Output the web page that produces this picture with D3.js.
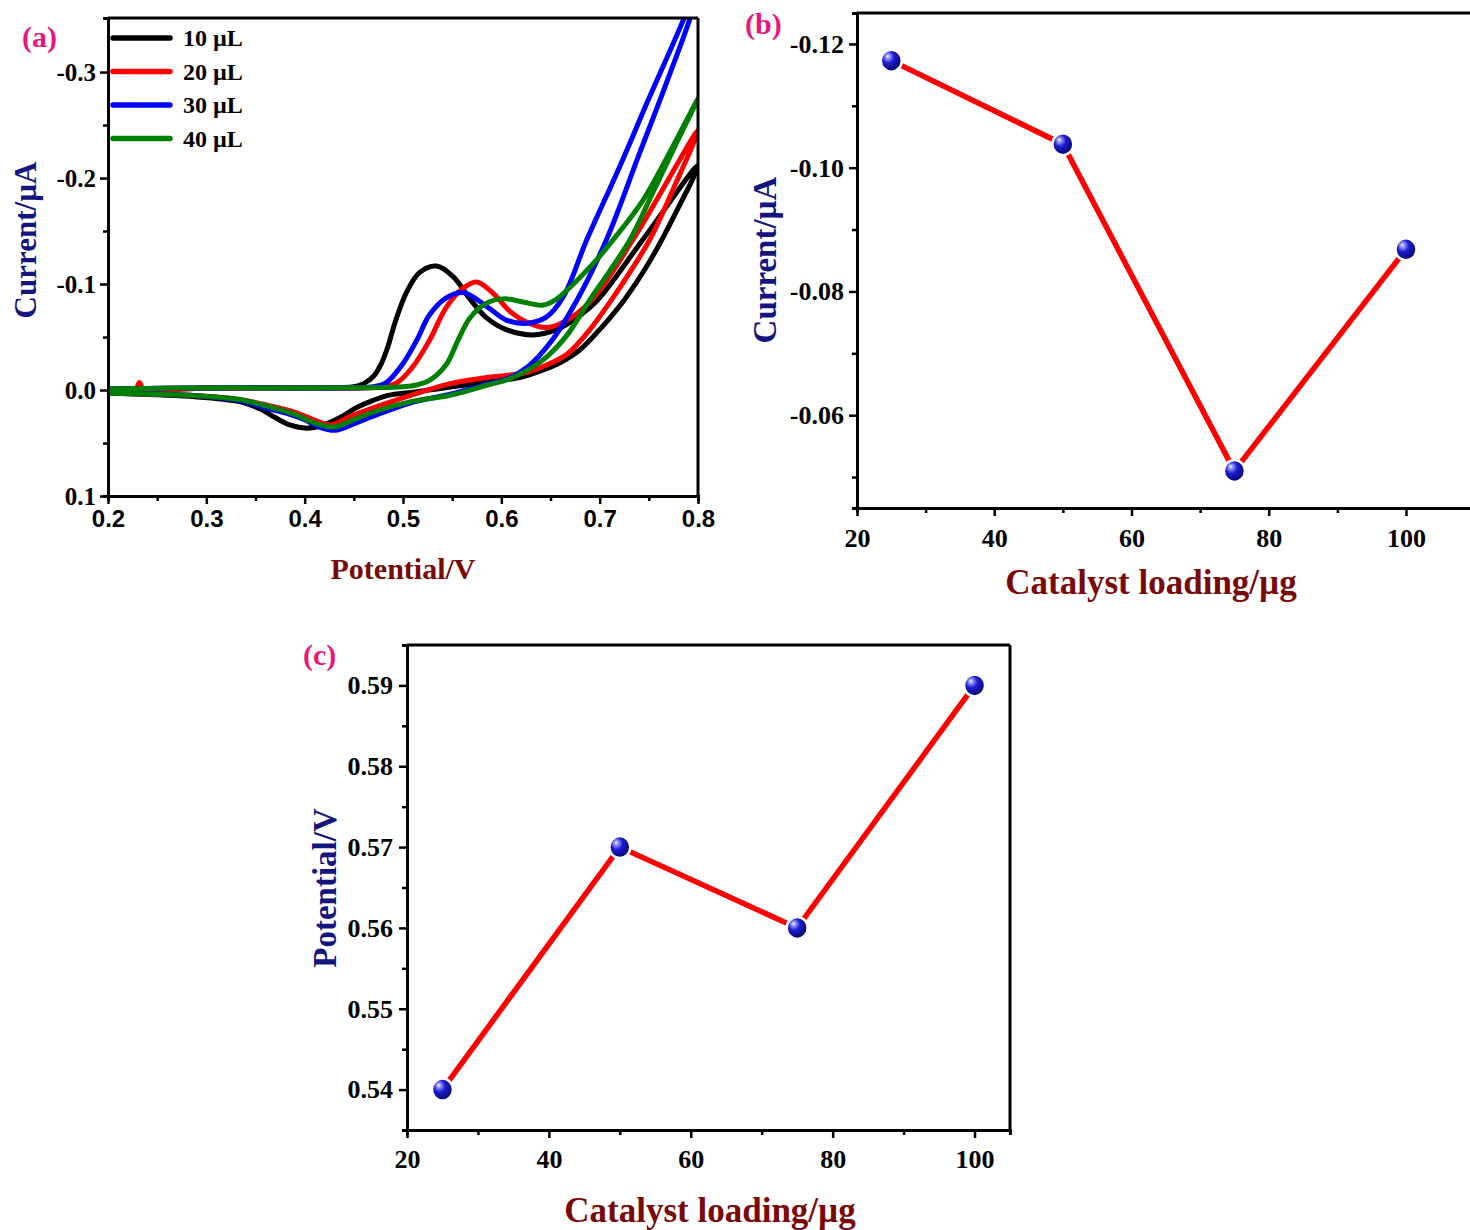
<!DOCTYPE html>
<html>
<head>
<meta charset="utf-8">
<script src="https://cdn.jsdelivr.net/npm/d3@7"></script>
<style>
  body { margin: 0; background: #fff; }
  svg { display: block; }
</style>
</head>
<body>
<div id="chart"></div>
<script>
// ---- data ----
// (a) cyclic voltammograms, [potential V, current uA], forward scan then reverse scan
const cvLabels = ["10 \u00b5L", "20 \u00b5L", "30 \u00b5L", "40 \u00b5L"];
const cv10 = [[0.2,-0.001],[0.3,-0.002],[0.4,-0.002],[0.45,-0.003],[0.46,-0.006],[0.47,-0.013],[0.478,-0.025],[0.485,-0.042],[0.492,-0.064],[0.504,-0.093],[0.517,-0.111],[0.534,-0.117],[0.551,-0.107],[0.568,-0.086],[0.585,-0.068],[0.605,-0.057],[0.632,-0.052],[0.656,-0.057],[0.678,-0.069],[0.698,-0.085],[0.744,-0.142],[0.8,-0.212],
  [0.775,-0.163],[0.75,-0.12],[0.725,-0.085],[0.70,-0.057],[0.68,-0.038],[0.66,-0.026],[0.64,-0.018],[0.62,-0.012],[0.59,-0.008],[0.55,-0.003],[0.51,0.002],[0.485,0.005],[0.469,0.010],[0.452,0.017],[0.436,0.026],[0.419,0.033],[0.402,0.036],[0.385,0.033],[0.37,0.026],[0.355,0.018],[0.334,0.011],[0.283,0.006],[0.2,0.003]];
const cv20 = [[0.2,-0.001],[0.228,-0.001],[0.232,-0.007],[0.236,-0.001],[0.3,-0.002],[0.4,-0.002],[0.48,-0.003],[0.494,-0.007],[0.51,-0.022],[0.527,-0.047],[0.544,-0.078],[0.561,-0.096],[0.575,-0.102],[0.592,-0.091],[0.609,-0.074],[0.626,-0.064],[0.646,-0.059],[0.665,-0.065],[0.692,-0.085],[0.734,-0.142],[0.8,-0.245],
  [0.775,-0.19],[0.751,-0.142],[0.73,-0.11],[0.712,-0.085],[0.69,-0.057],[0.667,-0.034],[0.647,-0.024],[0.627,-0.017],[0.607,-0.014],[0.587,-0.012],[0.548,-0.006],[0.508,0.005],[0.469,0.017],[0.446,0.025],[0.426,0.033],[0.412,0.029],[0.39,0.021],[0.365,0.015],[0.334,0.009],[0.283,0.005],[0.2,0.003]];
const cv30 = [[0.2,-0.001],[0.3,-0.002],[0.4,-0.002],[0.47,-0.003],[0.483,-0.007],[0.5,-0.025],[0.514,-0.047],[0.527,-0.071],[0.544,-0.087],[0.561,-0.092],[0.585,-0.079],[0.605,-0.066],[0.626,-0.063],[0.646,-0.069],[0.663,-0.088],[0.687,-0.142],[0.72,-0.21],[0.75,-0.275],[0.785,-0.349],[0.8,-0.385],
  [0.795,-0.36],[0.77,-0.295],[0.74,-0.222],[0.707,-0.142],[0.677,-0.085],[0.65,-0.045],[0.627,-0.022],[0.607,-0.011],[0.587,-0.006],[0.548,0.004],[0.508,0.012],[0.469,0.025],[0.45,0.032],[0.431,0.038],[0.415,0.035],[0.40,0.028],[0.385,0.023],[0.365,0.018],[0.334,0.010],[0.283,0.005],[0.2,0.003]];
const cv40 = [[0.2,-0.001],[0.3,-0.002],[0.4,-0.002],[0.5,-0.003],[0.515,-0.005],[0.527,-0.009],[0.544,-0.024],[0.556,-0.047],[0.568,-0.068],[0.585,-0.082],[0.604,-0.086],[0.622,-0.083],[0.642,-0.080],[0.655,-0.085],[0.67,-0.097],[0.697,-0.123],[0.714,-0.142],[0.744,-0.179],[0.77,-0.222],[0.8,-0.275],
  [0.775,-0.227],[0.755,-0.188],[0.731,-0.142],[0.71,-0.112],[0.69,-0.085],[0.667,-0.052],[0.647,-0.032],[0.627,-0.019],[0.607,-0.010],[0.587,-0.005],[0.548,0.005],[0.508,0.011],[0.469,0.021],[0.45,0.028],[0.429,0.035],[0.41,0.031],[0.39,0.023],[0.365,0.016],[0.334,0.009],[0.283,0.005],[0.2,0.003]];
const cvSeries = [cv10, cv20, cv30, cv40];

// (b) and (c)
const loading = [25, 50, 75, 100];
const peakCurrent = [-0.1173, -0.1038, -0.0510, -0.0868];
const peakPotential = [0.54, 0.57, 0.56, 0.59];

// tick values
const aXTicks = [0.2, 0.3, 0.4, 0.5, 0.6, 0.7, 0.8];
const aXMinor = [0.25, 0.35, 0.45, 0.55, 0.65, 0.75];
const aYTicks = [0.1, 0.0, -0.1, -0.2, -0.3];
const aYMinor = [0.05, -0.05, -0.15, -0.25];
const loadTicks = [20, 40, 60, 80, 100];
const loadMinor = [30, 50, 70, 90, 110];
const bYTicks = [-0.12, -0.10, -0.08, -0.06];
const bYMinor = [-0.11, -0.09, -0.07, -0.05];
const cYTicks = [0.54, 0.55, 0.56, 0.57, 0.58, 0.59];
const cYMinor = [0.545, 0.555, 0.565, 0.575, 0.585];

// ---- drawing ----
const W = 1470, H = 1230;
const serif = "'Liberation Serif', 'Times New Roman', serif";
const sans = "'Liberation Sans', Arial, sans-serif";
const cvColors = ["#000000", "#ff0000", "#0000ff", "#008000"];
const pink = "#e8177d", navy = "#15157f", maroon = "#7a0a0a";

const svg = d3.select("#chart").append("svg")
    .attr("width", W).attr("height", H);

// glossy sphere gradient
const defs = svg.append("defs");
const grad = defs.append("radialGradient").attr("id", "ball")
    .attr("cx", "0.4").attr("cy", "0.38").attr("r", "0.62")
    .attr("fx", "0.32").attr("fy", "0.3");
grad.append("stop").attr("offset", "0").attr("stop-color", "#ffffff");
grad.append("stop").attr("offset", "0.15").attr("stop-color", "#9a9aff");
grad.append("stop").attr("offset", "0.45").attr("stop-color", "#1d1dd0");
grad.append("stop").attr("offset", "1").attr("stop-color", "#05056a");

function styleAxis(g, font, size) {
    g.select(".domain").attr("stroke-width", 3).attr("stroke", "#000");
    g.selectAll(".tick line").attr("stroke-width", 2.5).attr("stroke", "#000");
    g.selectAll("text").attr("font-family", font).attr("font-size", size)
        .attr("font-weight", "bold").attr("fill", "#000");
}

function drawAxes(opt) {
    let x = opt.x, y = opt.y;
    let [x0, x1] = x.range(), [y0, y1] = y.range();
    // frame top / right
    svg.append("line").attr("x1", x0).attr("x2", x1).attr("y1", y1).attr("y2", y1)
        .attr("stroke", "#000").attr("stroke-width", 3);
    svg.append("line").attr("x1", x1).attr("x2", x1).attr("y1", y0).attr("y2", y1)
        .attr("stroke", "#000").attr("stroke-width", 3);

    svg.append("g").attr("transform", `translate(0,${y0})`)
        .call(d3.axisBottom(x).tickValues(opt.xMinor).tickSize(5).tickFormat(""))
        .call(g => styleAxis(g, opt.xFont, opt.xSize));
    svg.append("g").attr("transform", `translate(0,${y0})`)
        .call(d3.axisBottom(x).tickValues(opt.xTicks).tickSize(8).tickSizeOuter(0)
            .tickPadding(opt.xPad).tickFormat(opt.xFmt))
        .call(g => styleAxis(g, opt.xFont, opt.xSize));
    svg.append("g").attr("transform", `translate(${x0},0)`)
        .call(d3.axisLeft(y).tickValues(opt.yMinor).tickSize(5).tickFormat(""))
        .call(g => styleAxis(g, serif, opt.ySize));
    svg.append("g").attr("transform", `translate(${x0},0)`)
        .call(d3.axisLeft(y).tickValues(opt.yTicks).tickSize(8).tickSizeOuter(0)
            .tickPadding(opt.yPad).tickFormat(opt.yFmt))
        .call(g => styleAxis(g, serif, opt.ySize));
}

function label(txt, x, y, color, size, rotate) {
    svg.append("text")
        .attr("transform", `translate(${x},${y})` + (rotate ? " rotate(-90)" : ""))
        .attr("text-anchor", rotate === undefined ? "start" : "middle")
        .attr("font-family", serif).attr("font-weight", "bold")
        .attr("font-size", size).attr("fill", color)
        .text(txt);
}

// ---------- panel (a) ----------
const xa = d3.scaleLinear().domain([0.2, 0.8]).range([108, 698]);
const ya = d3.scaleLinear().domain([0.1, -0.351]).range([496, 18]);

defs.append("clipPath").attr("id", "clipA").append("rect")
    .attr("x", 108).attr("y", 18).attr("width", 590).attr("height", 478);

const cvLine = d3.line().x(d => xa(d[0])).y(d => ya(d[1]))
    .curve(d3.curveCatmullRom.alpha(0.5));

svg.append("g").attr("clip-path", "url(#clipA)")
    .selectAll("path").data(cvSeries).join("path")
    .attr("d", cvLine)
    .attr("fill", "none")
    .attr("stroke", (d, i) => cvColors[i])
    .attr("stroke-width", 5)
    .attr("stroke-linejoin", "round");

drawAxes({
    x: xa, y: ya,
    xTicks: aXTicks, xMinor: aXMinor, xFmt: d => d.toFixed(1), xFont: sans, xSize: 24, xPad: 6,
    yTicks: aYTicks, yMinor: aYMinor, yFmt: d => d.toFixed(1), ySize: 25, yPad: 4
});

// legend
const leg = svg.append("g");
cvLabels.forEach((t, i) => {
    let ly = 38 + i * 33.5;
    leg.append("line").attr("x1", 113).attr("x2", 170).attr("y1", ly).attr("y2", ly)
        .attr("stroke", cvColors[i]).attr("stroke-width", 5.5).attr("stroke-linecap", "round");
    leg.append("text").attr("x", 183).attr("y", ly + 8)
        .attr("font-family", serif).attr("font-weight", "bold").attr("font-size", 24)
        .text(t);
});

label("(a)", 22, 47, pink, 30);
label("Potential/V", 403, 579, maroon, 30, false);
label("Current/\u00b5A", 36, 240, navy, 31, true);

// ---------- panel (b) ----------
const xb = d3.scaleLinear().domain([20, 110]).range([857, 1474.6]);
const yb = d3.scaleLinear().domain([-0.045, -0.125]).range([508, 13]);
drawAxes({
    x: xb, y: yb,
    xTicks: loadTicks, xMinor: loadMinor, xFmt: d => String(d), xFont: serif, xSize: 26, xPad: 13,
    yTicks: bYTicks, yMinor: bYMinor, yFmt: d => d.toFixed(2), ySize: 26, yPad: 5
});
const bData = loading.map((d, i) => [d, peakCurrent[i]]);
svg.append("path").datum(bData)
    .attr("d", d3.line().x(d => xb(d[0])).y(d => yb(d[1])))
    .attr("fill", "none").attr("stroke", "#ff0000").attr("stroke-width", 5.5);
svg.selectAll(".ballB").data(bData).join("ellipse").attr("class", "ballB")
    .attr("cx", d => xb(d[0])).attr("cy", d => yb(d[1]))
    .attr("rx", 10.5).attr("ry", 11)
    .attr("fill", "url(#ball)").attr("stroke", "#fff").attr("stroke-width", 2.5);

label("(b)", 745, 34, pink, 30);
label("Catalyst loading/\u00b5g", 1151, 594, maroon, 35, false);
label("Current/\u00b5A", 776, 260, navy, 33, true);

// ---------- panel (c) ----------
const xc = d3.scaleLinear().domain([20, 105]).range([407, 1010]);
const yc = d3.scaleLinear().domain([0.535, 0.595]).range([1130, 645]);
drawAxes({
    x: xc, y: yc,
    xTicks: loadTicks, xMinor: loadMinor.slice(0, 4), xFmt: d => String(d), xFont: serif, xSize: 26, xPad: 12,
    yTicks: cYTicks, yMinor: cYMinor, yFmt: d => d.toFixed(2), ySize: 26, yPad: 6
});
const cData = loading.map((d, i) => [d, peakPotential[i]]);
svg.append("path").datum(cData)
    .attr("d", d3.line().x(d => xc(d[0])).y(d => yc(d[1])))
    .attr("fill", "none").attr("stroke", "#ff0000").attr("stroke-width", 5.5);
svg.selectAll(".ballC").data(cData).join("ellipse").attr("class", "ballC")
    .attr("cx", d => xc(d[0])).attr("cy", d => yc(d[1]))
    .attr("rx", 10.5).attr("ry", 11)
    .attr("fill", "url(#ball)").attr("stroke", "#fff").attr("stroke-width", 2.5);

label("(c)", 303, 665, pink, 30);
label("Catalyst loading/\u00b5g", 710, 1222, maroon, 35, false);
label("Potential/V", 336, 888, navy, 33, true);
</script>
</body>
</html>
